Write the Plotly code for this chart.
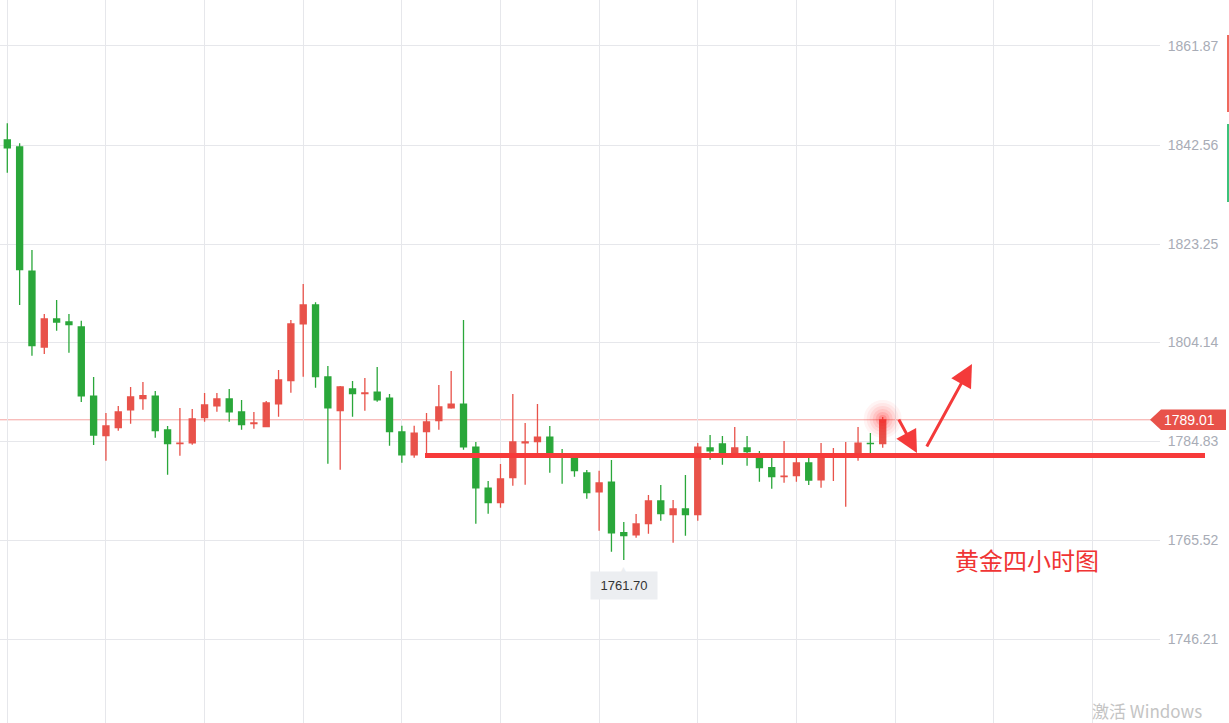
import plotly.graph_objects as go

# ---- data (XAU/USD 4h candles) ----
idx = list(range(72))
opens = [1843.54, 1842.17, 1818.00, 1803.19, 1808.65, 1808.07, 1807.09, 1793.64, 1785.91, 1787.47,
         1790.97, 1793.12, 1793.64, 1787.02, 1784.35, 1784.54, 1789.42, 1791.75, 1793.06, 1790.53,
         1788.25, 1787.66, 1792.14, 1796.63, 1807.73, 1811.38, 1797.35, 1790.78, 1795.01, 1794.09,
         1794.42, 1793.25, 1786.63, 1782.20, 1786.69, 1788.83, 1791.36, 1792.08, 1783.70, 1775.71,
         1772.85, 1777.72, 1784.54, 1784.74, 1785.65, 1781.95, 1781.75, 1778.64, 1774.99, 1776.88,
         1767.00, 1766.61, 1768.76, 1773.18, 1770.51, 1771.62, 1770.51, 1783.51, 1784.29, 1782.59,
         1783.51, 1781.95, 1779.67, 1777.92, 1778.11, 1780.59, 1777.33, 1781.85, 1781.85, 1781.95,
         1784.43, 1784.35]
highs = [1846.79, 1842.89, 1822.10, 1809.62, 1812.35, 1809.62, 1808.32, 1797.35, 1790.33, 1791.69,
         1795.40, 1796.37, 1794.62, 1787.80, 1791.30, 1791.11, 1794.23, 1794.23, 1795.01, 1792.86,
         1790.53, 1792.67, 1798.71, 1808.46, 1815.47, 1811.90, 1799.49, 1795.59, 1796.57, 1797.15,
         1799.30, 1794.03, 1787.86, 1787.86, 1790.33, 1795.79, 1798.52, 1808.46, 1784.68, 1777.08,
         1780.39, 1794.03, 1788.38, 1792.08, 1787.80, 1783.31, 1782.15, 1779.22, 1779.09, 1781.17,
         1769.09, 1770.65, 1774.35, 1776.30, 1773.37, 1778.25, 1784.48, 1786.04, 1785.85, 1787.60,
         1785.85, 1782.92, 1781.62, 1784.87, 1781.75, 1781.56, 1784.48, 1783.51, 1784.68, 1787.60,
         1786.43, 1789.55]
lows = [1837.16, 1811.38, 1801.50, 1801.83, 1806.37, 1802.08, 1792.47, 1784.09, 1781.03, 1786.88,
        1788.25, 1790.97, 1785.52, 1778.31, 1782.01, 1784.15, 1788.64, 1790.58, 1788.64, 1787.08,
        1787.27, 1787.66, 1789.61, 1794.29, 1797.41, 1795.26, 1780.45, 1779.28, 1789.61, 1790.78,
        1792.53, 1783.96, 1780.64, 1781.62, 1781.95, 1787.08, 1791.17, 1783.18, 1768.76, 1770.71,
        1771.88, 1776.16, 1776.36, 1782.40, 1778.70, 1776.55, 1777.92, 1773.63, 1767.39, 1763.30,
        1761.70, 1766.03, 1766.81, 1769.34, 1765.05, 1766.42, 1769.34, 1781.23, 1780.26, 1782.28,
        1780.06, 1776.94, 1775.58, 1776.75, 1776.94, 1776.30, 1775.77, 1777.08, 1772.07, 1781.03,
        1782.34, 1783.57]
closes = [1842.03, 1818.26, 1803.45, 1808.65, 1808.07, 1807.54, 1793.70, 1786.04, 1787.80, 1790.53,
          1793.45, 1793.70, 1786.88, 1784.35, 1784.48, 1789.16, 1791.89, 1793.06, 1790.58, 1788.05,
          1788.38, 1792.28, 1796.76, 1807.68, 1811.38, 1797.41, 1791.36, 1795.40, 1794.09, 1794.23,
          1792.92, 1786.69, 1782.20, 1786.43, 1788.58, 1791.50, 1792.08, 1783.76, 1775.77, 1772.85,
          1777.47, 1784.68, 1784.68, 1785.65, 1782.34, 1781.75, 1779.09, 1774.80, 1776.69, 1767.00,
          1766.42, 1768.70, 1773.18, 1770.71, 1771.62, 1770.51, 1783.70, 1782.98, 1782.59, 1783.51,
          1782.79, 1779.67, 1777.92, 1778.05, 1780.59, 1777.27, 1781.95, 1781.95, 1781.95, 1784.48,
          1784.35, 1789.01]

y_ticks = [1861.87, 1842.56, 1823.25, 1804.14, 1784.83, 1765.52, 1746.21]
y_tick_text = ["1861.87", "1842.56", "1823.25", "1804.14", "1784.83", "1765.52", "1746.21"]
x_grid = list(range(0, 89, 8))

last_price = 1789.01
period_low = 1761.70
support_level = 1782.05
title_text = "黄金四小时图"
watermark = "激活 Windows"

UP = "#e8524a"
DOWN = "#2aa73a"
GRID = "#e6e7eb"

fig = go.Figure()

# soft glow around last candle
low_i = lows.index(min(lows))
for size, op in [(38, 0.05), (32, 0.06), (26, 0.08), (20, 0.10), (14, 0.14), (8, 0.2)]:
    fig.add_trace(go.Scatter(x=[idx[-1]], y=[highs[-1] - 0.4], mode="markers",
                             marker=dict(size=size, color="#ff2020", opacity=op, line=dict(width=0)),
                             hoverinfo="skip", showlegend=False))

fig.add_trace(go.Candlestick(
    x=idx, open=opens, high=highs, low=lows, close=closes,
    increasing=dict(line=dict(color=UP, width=1.3), fillcolor=UP),
    decreasing=dict(line=dict(color=DOWN, width=1.3), fillcolor=DOWN),
    whiskerwidth=0, showlegend=False, hoverinfo="skip"))

W, H = 1229, 723
plot_w = 1160

shapes = [
    dict(type="line", xref="paper", yref="y", x0=0, x1=1, y0=last_price, y1=last_price,
         line=dict(color="#f5a3a0", width=1), layer="below"),
    dict(type="line", xref="paper", yref="y", x0=425 / plot_w, x1=1205 / plot_w,
         y0=support_level, y1=support_level, line=dict(color="#f73a3a", width=5)),
    dict(type="path", xref="paper", yref="y", fillcolor=UP, line=dict(width=0),
         path=(f"M {1150/plot_w} {last_price} L {1161/plot_w} {last_price + 2.0} "
               f"L {1226/plot_w} {last_price + 2.0} L {1226/plot_w} {last_price - 2.0} "
               f"L {1161/plot_w} {last_price - 2.0} Z")),
    dict(type="line", xref="paper", yref="paper", x0=1228 / plot_w, x1=1228 / plot_w,
         y0=1 - 35 / H, y1=1 - 112 / H, line=dict(color="#ef6a5e", width=2)),
    dict(type="line", xref="paper", yref="paper", x0=1228 / plot_w, x1=1228 / plot_w,
         y0=1 - 124 / H, y1=1 - 202 / H, line=dict(color="#3cc27a", width=2)),
]

annotations = [
    dict(xref="paper", yref="y", x=1189 / plot_w, y=last_price, text=f"{last_price:.2f}",
         showarrow=False, font=dict(color="white", size=14, family="Liberation Sans"),
         xanchor="center", yanchor="middle"),
    dict(x=idx[low_i], y=period_low, text="▲", showarrow=False, yanchor="top", yshift=-1,
         xanchor="center", font=dict(size=14, color="#eceef1", family="DejaVu Sans")),
    dict(x=idx[low_i], y=period_low, text=f"{period_low:.2f}", showarrow=False, yanchor="top",
         xanchor="center", yshift=-11, bgcolor="#eceef1", borderpad=6, width=54,
         font=dict(size=13, color="#333333", family="Liberation Sans")),
    dict(x=73.78, y=1782.53, ax=-19, ay=-35, showarrow=True, arrowhead=2, arrowsize=1.5,
         arrowwidth=3, arrowcolor="#f43a3a", text=""),
    dict(x=78.24, y=1799.88, ax=-46, ay=84, showarrow=True, arrowhead=2, arrowsize=1.5,
         arrowwidth=3, arrowcolor="#f43a3a", text=""),
    dict(xref="paper", yref="paper", x=1027 / plot_w, y=1 - 559 / H, text=title_text,
         showarrow=False, xanchor="center", yanchor="middle",
         font=dict(size=24, color="#f03434", family="Noto Sans CJK SC")),
    dict(xref="paper", yref="paper", x=1090 / plot_w, y=0, text=watermark,
         showarrow=False, xanchor="left", yanchor="bottom", yshift=-2,
         font=dict(size=17, color="#c4c4c4", family="Noto Sans CJK SC")),
]

fig.update_layout(
    width=W, height=H,
    margin=dict(l=0, r=W - plot_w, t=0, b=0),
    paper_bgcolor="white", plot_bgcolor="white",
    boxgap=0.3,
    shapes=shapes, annotations=annotations,
    xaxis=dict(range=[-0.592, 93.49], tickvals=x_grid, showticklabels=False, showgrid=True,
               gridcolor=GRID, gridwidth=1, zeroline=False, showline=False, ticks="",
               rangeslider=dict(visible=False), fixedrange=True),
    yaxis=dict(side="right", range=[1729.92, 1870.82], tickvals=y_ticks, ticktext=y_tick_text,
               showgrid=True, gridcolor=GRID, gridwidth=1, zeroline=False, showline=False,
               ticks="outside", ticklen=4, tickcolor="rgba(0,0,0,0)",
               tickfont=dict(size=14, color="#a8acb6", family="Liberation Sans"), fixedrange=True),
    showlegend=False,
)

fig.write_html("out.html", config={"displayModeBar": False},
               post_script="document.body.style.margin='0';")
